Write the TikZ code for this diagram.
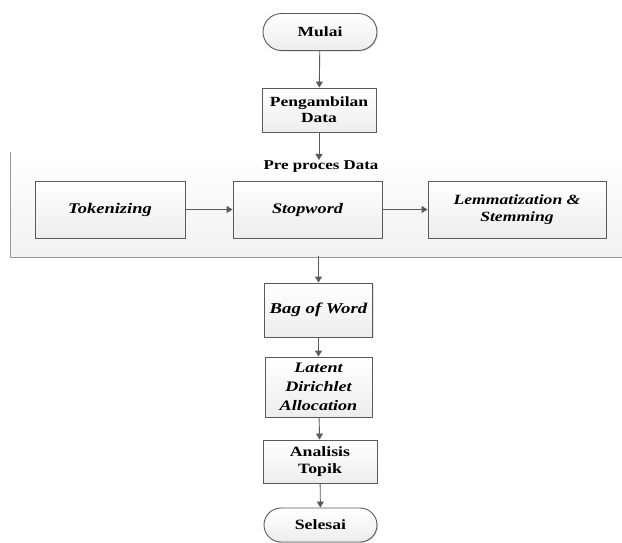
\documentclass[tikz,border=0pt]{standalone}
\usepackage{fontspec}
\setmainfont{Liberation Serif}[FakeStretch=1.25]
\usetikzlibrary{arrows.meta,shapes.misc,shadows}
\definecolor{edge}{HTML}{5A5A5A}
\tikzset{
  x=1pt,y=-1pt,
  boxy/.style={draw=edge,line width=0.9pt,top color=white,bottom color=gray!14,
    drop shadow={shadow xshift=1pt,shadow yshift=-1pt,opacity=0.25},
    font=\bfseries,align=center,inner sep=1pt},
  term/.style={boxy,rounded rectangle},
  flow/.style={draw=edge,line width=0.9pt,-{Triangle[width=7pt,length=6pt]}},
  up/.style={font=\bfseries\fontsize{#1}{16}\selectfont},
  it/.style={font=\bfseries\itshape\fontsize{#1}{17}\selectfont},
}
\begin{document}
\begin{tikzpicture}
\useasboundingbox (0,0) rectangle (622,542);
% container
\node[shading=axis,top color=white,bottom color=gray!10,minimum width=612pt,minimum height=106pt,inner sep=0pt] (pre) at (316,203) {};
\draw[draw=gray!80,line width=0.9pt] (10,152) -- (10,257) -- (622,257);
\node[up=13.5,inner sep=1pt] (prelabel) at (321,167) {Pre proces Data};
% nodes
\node[term,minimum width=116pt,minimum height=37pt,up=14] (mulai) at (320,32) {Mulai};
\node[boxy,minimum width=114pt,minimum height=44pt,up=14] (peng) at (319,110) {Pengambilan\\Data};
\node[boxy,minimum width=150pt,minimum height=57pt,it=14.8] (tok) at (110,209.5) {Tokenizing};
\node[boxy,minimum width=149pt,minimum height=57pt,it=14.6] (stop) at (307.5,209.5) {Stopword};
\node[boxy,minimum width=178pt,minimum height=57pt,it=14.1] (lemm) at (517,209.5) {Lemmatization \&\\Stemming};
\node[boxy,minimum width=108pt,minimum height=54pt,it=15] (bow) at (318.5,310) {Bag of Word};
\node[boxy,minimum width=107pt,minimum height=60pt,font=\bfseries\itshape\fontsize{14.5}{19}\selectfont] (lda) at (318.5,387) {Latent\\Dirichlet\\Allocation};
\node[boxy,minimum width=114pt,minimum height=43pt,font=\bfseries\fontsize{14.2}{17}\selectfont] (anal) at (320,461.5) {Analisis\\Topik};
\node[term,minimum width=115pt,minimum height=34pt,up=14.2] (selesai) at (320.5,525) {Selesai};
% connectors
\draw[flow] (mulai) -- (peng);
\draw[flow] (peng.south) -- (peng.south |- prelabel.north);
\draw[flow] (tok) -- (stop);
\draw[flow] (stop) -- (lemm);
\draw[flow] (pre.south -| bow) -- (bow);
\draw[flow] (bow) -- (lda);
\draw[flow] (lda) -- (anal);
\draw[flow] (anal) -- (selesai);
\end{tikzpicture}
\end{document}
